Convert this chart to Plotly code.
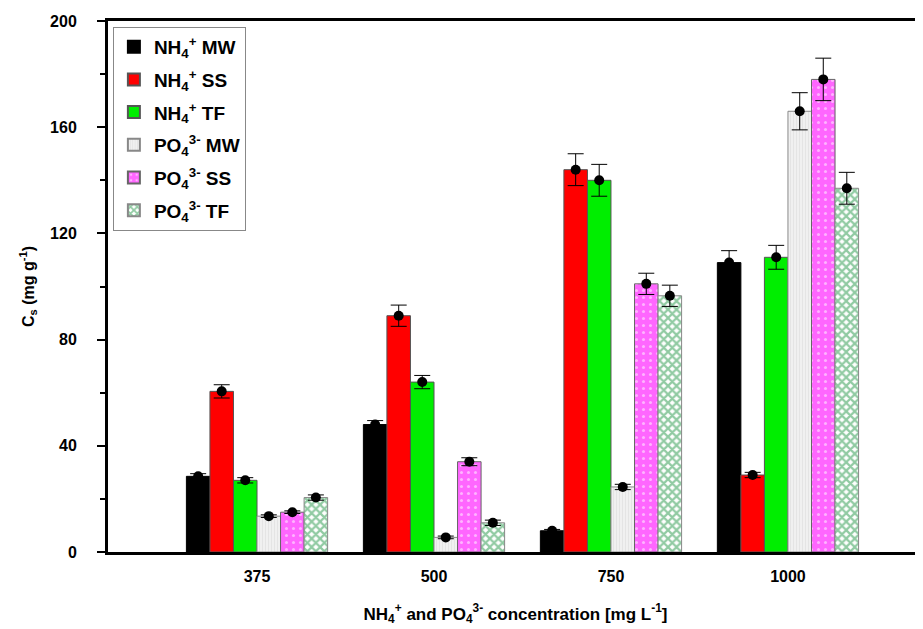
import plotly.graph_objects as go

categories = ["375", "500", "750", "1000"]
series_names = [
    "NH<sub>4</sub><sup>+</sup> MW",
    "NH<sub>4</sub><sup>+</sup> SS",
    "NH<sub>4</sub><sup>+</sup> TF",
    "PO<sub>4</sub><sup>3-</sup> MW",
    "PO<sub>4</sub><sup>3-</sup> SS",
    "PO<sub>4</sub><sup>3-</sup> TF",
]
nh4_mw = [28.5, 48, 8, 109]
nh4_ss = [60.5, 89, 144, 29]
nh4_tf = [27, 64, 140, 111]
po4_mw = [13.5, 5.5, 24.5, 166]
po4_ss = [15, 34, 101, 178]
po4_tf = [20.5, 11, 96.5, 137]
values = [nh4_mw, nh4_ss, nh4_tf, po4_mw, po4_ss, po4_tf]

err_nh4_mw = [1, 1.5, 0.5, 4.5]
err_nh4_ss = [2.5, 4, 6, 1]
err_nh4_tf = [1, 2.5, 6, 4.5]
err_po4_mw = [0.5, 0.5, 1, 7]
err_po4_ss = [0.5, 1.5, 4, 8]
err_po4_tf = [1, 1, 4, 6]
errors = [err_nh4_mw, err_nh4_ss, err_nh4_tf, err_po4_mw, err_po4_ss, err_po4_tf]

styles = [
    dict(color="#000000", line=dict(color="#000000", width=1)),
    dict(color="#ff0000", line=dict(color="#555555", width=1)),
    dict(color="#00ee00", line=dict(color="#555555", width=1)),
    dict(color="#eeeeee", line=dict(color="#888888", width=1),
         pattern=dict(shape="|", fgcolor="#d6d6d6", bgcolor="#f0f0f0", size=3, solidity=0.3)),
    dict(color="#ff66ff", line=dict(color="#666666", width=1),
         pattern=dict(shape=".", fgcolor="#ffffff", bgcolor="#ff66ff", size=7, solidity=0.15)),
    dict(color="#ffffff", line=dict(color="#888888", width=1),
         pattern=dict(shape="x", fgcolor="#229646", bgcolor="#ffffff", size=6, solidity=0.6)),
]

bar_w = 0.133
n = len(values)
fig = go.Figure()
for j, (name, vals, st) in enumerate(zip(series_names, values, styles)):
    xs = [i + (j - (n - 1) / 2) * bar_w for i in range(len(categories))]
    fig.add_trace(go.Bar(x=xs, y=vals, width=bar_w, name=name, marker=st,
                         legendgroup=f"g{j}"))
for j, (vals, errs) in enumerate(zip(values, errors)):
    xs = [i + (j - (n - 1) / 2) * bar_w for i in range(len(categories))]
    fig.add_trace(go.Scatter(
        x=xs, y=vals, mode="markers", showlegend=False,
        marker=dict(color="black", size=10),
        error_y=dict(type="data", array=errs, color="black", thickness=1, width=8),
    ))

font_family = "Liberation Sans, Arial, sans-serif"
fig.update_layout(
    width=915, height=621,
    margin=dict(l=100, r=0, t=13, b=77),
    plot_bgcolor="white", paper_bgcolor="white",
    font=dict(family=font_family, color="black"),
    showlegend=True,
    legend=dict(
        x=0.006, y=0.989, xanchor="left", yanchor="top",
        bordercolor="#888888", borderwidth=1, bgcolor="white",
        font=dict(size=19, weight="bold"),
        tracegroupgap=5, itemsizing="constant",
    ),
    xaxis=dict(
        range=[-0.842, 3.763], tickmode="array",
        tickvals=list(range(len(categories))), ticktext=categories,
        showgrid=False, zeroline=False, showline=True, linecolor="black",
        linewidth=3, mirror=True, ticks="", automargin=False,
        ticklabelstandoff=8,
        tickfont=dict(size=16, weight="bold"),
        title=dict(text="NH<sub>4</sub><sup>+</sup> and PO<sub>4</sub><sup>3-</sup> concentration [mg L<sup>-1</sup>]",
                   font=dict(size=17, weight="bold"), standoff=24),
    ),
    yaxis=dict(
        range=[0, 200], dtick=40, tick0=0, showgrid=False, zeroline=False,
        showline=True, linecolor="black", linewidth=3, mirror=False,
        ticks="outside", ticklen=8, tickwidth=2, tickcolor="black",
        minor=dict(dtick=20, ticks="outside", ticklen=5, tickwidth=2, tickcolor="black"),
        automargin=False, ticklabelstandoff=17,
        tickfont=dict(size=16, weight="bold"),
        title=dict(text="C<sub>s</sub> (mg g<sup>-1</sup>)", font=dict(size=16, weight="bold"), standoff=12),
    ),
)

fig.write_html("out.html")
